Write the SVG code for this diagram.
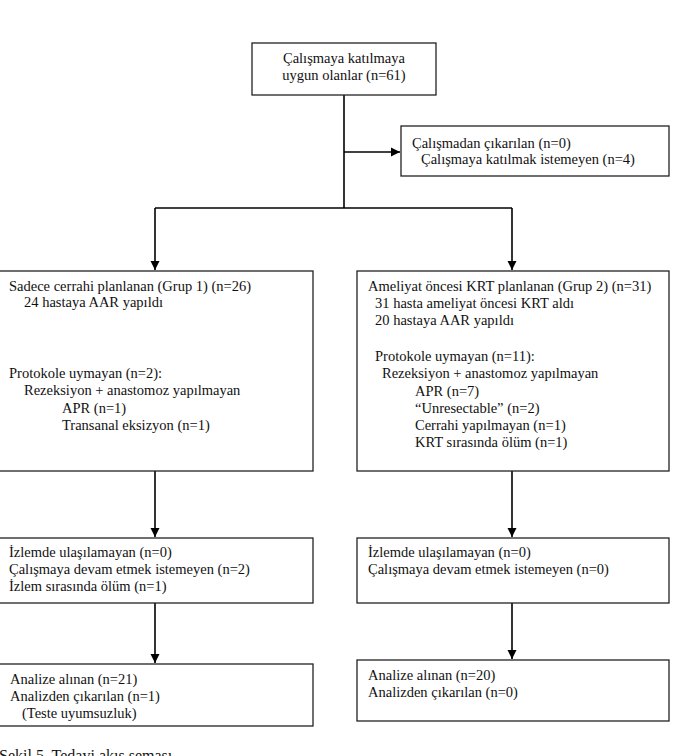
<svg xmlns="http://www.w3.org/2000/svg" width="675" height="756" viewBox="0 0 675 756">
<defs>
<marker id="ah" markerWidth="10" markerHeight="10" refX="9" refY="5" orient="auto" markerUnits="userSpaceOnUse">
<path d="M0,0.5 L9,5 L0,9.5 Z" fill="#000"/>
</marker>
<style>
.box{fill:#fff;stroke:#222;stroke-width:1.3}
.t{font-family:"Liberation Serif","Times New Roman",serif;font-size:14.5px;fill:#111}
.c{stroke:#000;stroke-width:1.6;fill:none}
</style>
</defs>
<rect width="675" height="756" fill="#fff"/>
<g id="connectors">
<path class="c" d="M344,95 V208"/>
<path class="c" d="M344,152 H400" marker-end="url(#ah)"/>
<path class="c" d="M155,208 H512"/>
<path class="c" d="M155,208 V270" marker-end="url(#ah)"/>
<path class="c" d="M512,208 V270" marker-end="url(#ah)"/>
<path class="c" d="M155,471 V537" marker-end="url(#ah)"/>
<path class="c" d="M155,603 V663" marker-end="url(#ah)"/>
<path class="c" d="M512,471 V537" marker-end="url(#ah)"/>
<path class="c" d="M512,603 V659" marker-end="url(#ah)"/>
</g>
<g id="n-eligible">
<rect class="box" x="252" y="43" width="184" height="52"/>
<text class="t" x="344" y="63" text-anchor="middle">Çalışmaya katılmaya</text>
<text class="t" x="344" y="80" text-anchor="middle">uygun olanlar (n=61)</text>
</g>
<g id="n-excluded">
<rect class="box" x="401" y="126" width="268" height="50"/>
<text class="t" x="412" y="148">Çalışmadan çıkarılan (n=0)</text>
<text class="t" x="421" y="164">Çalışmaya katılmak istemeyen (n=4)</text>
</g>
<g id="n-group1">
<rect class="box" x="-1" y="271" width="314" height="200"/>
<text class="t" x="9" y="291">Sadece cerrahi planlanan (Grup 1) (n=26)</text>
<text class="t" x="24" y="307">24 hastaya AAR yapıldı</text>
<text class="t" x="9" y="378">Protokole uymayan (n=2):</text>
<text class="t" x="24" y="395">Rezeksiyon + anastomoz yapılmayan</text>
<text class="t" x="62" y="413">APR (n=1)</text>
<text class="t" x="62" y="430">Transanal eksizyon (n=1)</text>
</g>
<g id="n-group2">
<rect class="box" x="357" y="271" width="312" height="200"/>
<text class="t" x="368" y="291">Ameliyat öncesi KRT planlanan (Grup 2) (n=31)</text>
<text class="t" x="375" y="308">31 hasta ameliyat öncesi KRT aldı</text>
<text class="t" x="375" y="325">20 hastaya AAR yapıldı</text>
<text class="t" x="375" y="361">Protokole uymayan (n=11):</text>
<text class="t" x="382" y="378">Rezeksiyon + anastomoz yapılmayan</text>
<text class="t" x="415" y="396">APR (n=7)</text>
<text class="t" x="415" y="413">“Unresectable” (n=2)</text>
<text class="t" x="415" y="430">Cerrahi yapılmayan (n=1)</text>
<text class="t" x="415" y="447">KRT sırasında ölüm (n=1)</text>
</g>
<g id="n-follow1">
<rect class="box" x="-1" y="538" width="314" height="65"/>
<text class="t" x="9" y="557">İzlemde ulaşılamayan (n=0)</text>
<text class="t" x="9" y="574">Çalışmaya devam etmek istemeyen (n=2)</text>
<text class="t" x="9" y="591">İzlem sırasında ölüm (n=1)</text>
</g>
<g id="n-follow2">
<rect class="box" x="357" y="538" width="312" height="65"/>
<text class="t" x="368" y="557">İzlemde ulaşılamayan (n=0)</text>
<text class="t" x="368" y="574">Çalışmaya devam etmek istemeyen (n=0)</text>
</g>
<g id="n-analysis1">
<rect class="box" x="-1" y="664" width="314" height="62"/>
<text class="t" x="10" y="684">Analize alınan (n=21)</text>
<text class="t" x="10" y="701">Analizden çıkarılan (n=1)</text>
<text class="t" x="22" y="718">(Teste uyumsuzluk)</text>
</g>
<g id="n-analysis2">
<rect class="box" x="357" y="660" width="312" height="61"/>
<text class="t" x="368" y="680">Analize alınan (n=20)</text>
<text class="t" x="368" y="697">Analizden çıkarılan (n=0)</text>
</g>
<text class="t" x="-1" y="761" style="font-size:16px">Şekil 5. Tedavi akış şeması</text>
</svg>
